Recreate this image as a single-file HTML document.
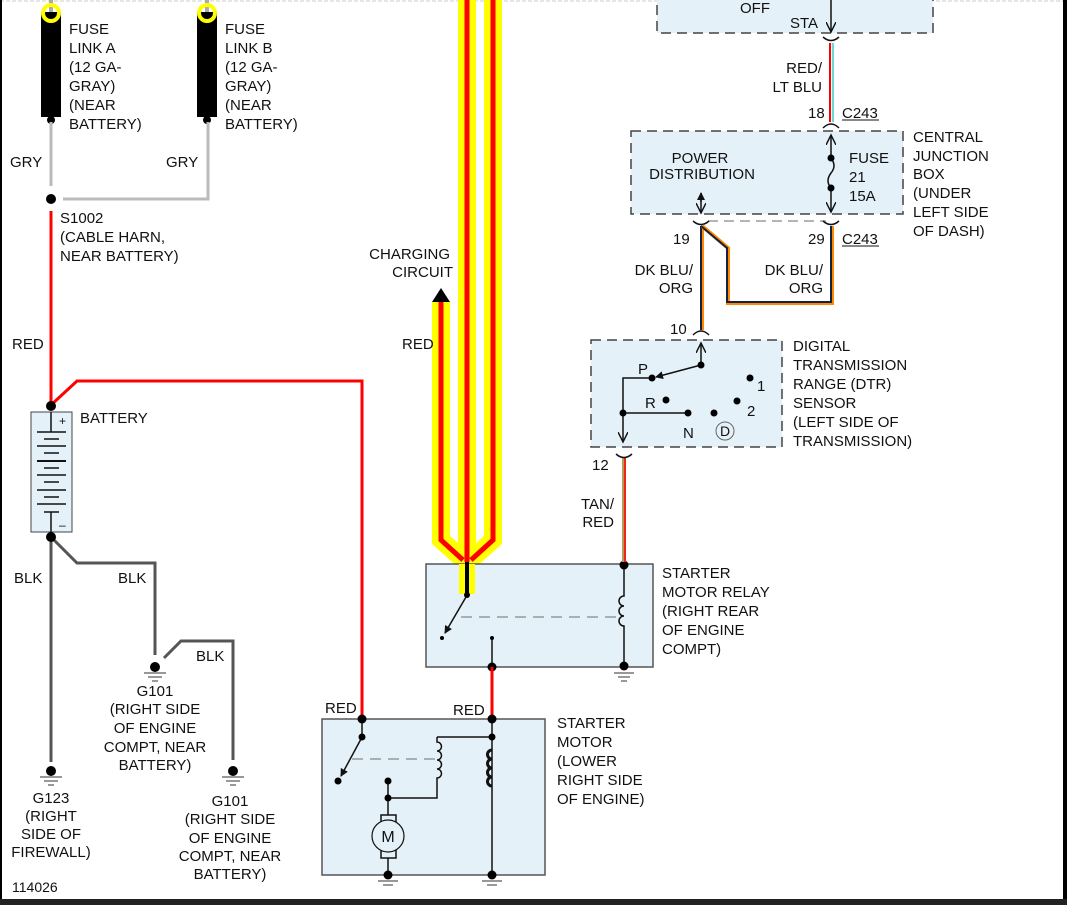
<!DOCTYPE html>
<html><head><meta charset="utf-8"><style>
html,body{margin:0;padding:0;background:#fff}
svg{display:block}
text{font-family:"Liberation Sans",sans-serif;font-size:15px;fill:#111}
</style></head><body>
<svg width="1067" height="905" viewBox="0 0 1067 905" xmlns="http://www.w3.org/2000/svg">
<defs>
<marker id="ah" markerWidth="8" markerHeight="8" refX="7" refY="4" orient="auto" markerUnits="userSpaceOnUse"><path d="M0,0 L8,4 L0,8 z" fill="#111"/></marker>
<marker id="oa" markerWidth="12" markerHeight="10" refX="10" refY="5" orient="auto" markerUnits="userSpaceOnUse"><path d="M0,0 L10,5 L0,10" fill="none" stroke="#111" stroke-width="1.4"/></marker>
</defs>
<rect width="1067" height="905" fill="#fff"/>
<line x1="0" y1="1" x2="1064" y2="1" stroke="#ccc" stroke-dasharray="4,2"/>
<rect x="0" y="0" width="2" height="905" fill="#000"/>
<rect x="1063" y="0" width="4" height="905" fill="#000"/>
<rect x="0" y="899" width="1067" height="6" fill="#222"/>

<!-- fuse links -->
<g>
<line x1="51" y1="0" x2="51" y2="12" stroke="#aaa" stroke-width="4"/>
<line x1="207" y1="0" x2="207" y2="12" stroke="#aaa" stroke-width="4"/>
<rect x="41" y="12" width="20" height="105" fill="#000"/>
<rect x="197" y="12" width="20" height="105" fill="#000"/>
<circle cx="51" cy="13" r="8" fill="none" stroke="#ff0" stroke-width="4"/>
<circle cx="207" cy="13" r="8" fill="none" stroke="#ff0" stroke-width="4"/>
<circle cx="51" cy="120" r="4" fill="#000"/>
<circle cx="207" cy="120" r="4" fill="#000"/>
<polyline points="51,122 51,186" fill="none" stroke="#bbb" stroke-width="3"/>
<polyline points="63,199 208,199 208,122" fill="none" stroke="#bbb" stroke-width="3"/>
<circle cx="51" cy="199" r="5" fill="#000"/>
</g>
<text x="69" y="34">FUSE</text><text x="69" y="53">LINK A</text><text x="69" y="72">(12 GA-</text><text x="69" y="91">GRAY)</text><text x="69" y="110">(NEAR</text><text x="69" y="129">BATTERY)</text>
<text x="225" y="34">FUSE</text><text x="225" y="53">LINK B</text><text x="225" y="72">(12 GA-</text><text x="225" y="91">GRAY)</text><text x="225" y="110">(NEAR</text><text x="225" y="129">BATTERY)</text>
<text x="10" y="167">GRY</text><text x="166" y="167">GRY</text>
<text x="60" y="223">S1002</text><text x="60" y="242">(CABLE HARN,</text><text x="60" y="261">NEAR BATTERY)</text>

<!-- red main -->
<line x1="51" y1="211" x2="51" y2="405" stroke="#f00" stroke-width="3"/>
<polyline points="51,405 77,381 362,381 362,718" fill="none" stroke="#f00" stroke-width="3"/>
<text x="12" y="349">RED</text>

<!-- battery -->
<rect x="31" y="412" width="41" height="120" fill="#e4f1f8" stroke="#444"/>
<circle cx="51" cy="406" r="5" fill="#000"/>
<g stroke="#111" stroke-width="1.5">
<line x1="51" y1="412" x2="51" y2="432"/>
<line x1="37" y1="432" x2="66" y2="432"/><line x1="44" y1="439" x2="59" y2="439"/>
<line x1="37" y1="446" x2="66" y2="446"/><line x1="44" y1="453" x2="59" y2="453"/>
<line x1="37" y1="461" x2="66" y2="461" stroke-width="2"/><line x1="44" y1="468" x2="59" y2="468"/>
<line x1="37" y1="475" x2="66" y2="475"/><line x1="44" y1="482" x2="59" y2="482"/>
<line x1="37" y1="490" x2="66" y2="490"/><line x1="44" y1="497" x2="59" y2="497"/>
<line x1="37" y1="504" x2="66" y2="504"/>
<line x1="44" y1="512" x2="59" y2="512"/><line x1="51" y1="512" x2="51" y2="532"/>
</g>
<text x="59" y="425" style="font-size:12px">+</text><text x="59" y="529" style="font-size:12px">–</text>
<text x="80" y="423">BATTERY</text>

<!-- BLK wires -->
<g fill="none" stroke="#555" stroke-width="3">
<line x1="51" y1="537" x2="51" y2="762"/>
<polyline points="51,537 77,563 155,563 155,655"/>
<polyline points="164,658 181,641 233,641 233,760"/>
</g>
<circle cx="51" cy="537" r="5" fill="#000"/>
<text x="14" y="583">BLK</text><text x="118" y="583">BLK</text><text x="196" y="661">BLK</text>
<g fill="#000">
<circle cx="155" cy="667" r="5"/><circle cx="51" cy="771" r="5"/><circle cx="233" cy="771" r="5"/>
</g>
<g stroke="#777" stroke-width="1.5">
<line x1="144" y1="673" x2="166" y2="673"/><line x1="148" y1="677" x2="162" y2="677"/><line x1="152" y1="681" x2="158" y2="681"/>
<line x1="40" y1="777" x2="62" y2="777"/><line x1="44" y1="781" x2="58" y2="781"/><line x1="48" y1="785" x2="54" y2="785"/>
<line x1="222" y1="777" x2="244" y2="777"/><line x1="226" y1="781" x2="240" y2="781"/><line x1="230" y1="785" x2="236" y2="785"/>
</g>
<g text-anchor="middle">
<text x="155" y="696">G101</text><text x="155" y="714">(RIGHT SIDE</text><text x="155" y="733">OF ENGINE</text><text x="155" y="752">COMPT, NEAR</text><text x="155" y="770">BATTERY)</text>
<text x="51" y="803">G123</text><text x="51" y="821">(RIGHT</text><text x="51" y="839">SIDE OF</text><text x="51" y="857">FIREWALL)</text>
<text x="230" y="806">G101</text><text x="230" y="824">(RIGHT SIDE</text><text x="230" y="843">OF ENGINE</text><text x="230" y="861">COMPT, NEAR</text><text x="230" y="879">BATTERY)</text>
</g>
<text x="12" y="892" style="font-size:14px">114026</text>

<!-- yellow harness -->
<g fill="none" stroke-linejoin="miter">
<g stroke="#ff0" stroke-width="18">
<polyline points="441,302 441,540 467,563"/>
<polyline points="493,0 493,540 467,563"/>
<line x1="467" y1="0" x2="467" y2="570"/>
</g>
<g stroke="#f00" stroke-width="5">
<polyline points="441,300 441,540 463,560"/>
<polyline points="493,0 493,540 471,560"/>
<line x1="467" y1="0" x2="467" y2="562"/>
</g>
</g>
<path d="M432,302 L441,288 L450,302 z" fill="#000"/>
<text x="450" y="259" text-anchor="end">CHARGING</text><text x="453" y="277" text-anchor="end">CIRCUIT</text>
<text x="402" y="349">RED</text>

<!-- relay -->
<rect x="426" y="564" width="227" height="103" fill="#e4f1f8" stroke="#555" stroke-width="1.5"/>
<rect x="459" y="564" width="16" height="30" fill="#ff0"/>
<line x1="467" y1="562" x2="467" y2="594" stroke="#000" stroke-width="4"/>
<circle cx="467" cy="595" r="3" fill="#000"/>
<line x1="466" y1="597" x2="445" y2="633" stroke="#111" stroke-width="1.5" marker-end="url(#ah)"/>
<circle cx="442" cy="638" r="2" fill="#000"/>
<line x1="461" y1="617" x2="620" y2="617" stroke="#888" stroke-width="1.2" stroke-dasharray="11,7"/>
<line x1="492" y1="638" x2="492" y2="667" stroke="#111" stroke-width="1.5"/>
<circle cx="492" cy="638" r="2" fill="#000"/>
<circle cx="492" cy="667" r="4.5" fill="#000"/>
<path d="M624,565 L624,596 a5,5 0 0 0 0,10 a5,5 0 0 0 0,10 a5,5 0 0 0 0,10 L624,666" fill="none" stroke="#111" stroke-width="1.5"/>
<circle cx="624" cy="565" r="4.5" fill="#000"/><circle cx="624" cy="666" r="4.5" fill="#000"/>
<g stroke="#777" stroke-width="1.5"><line x1="614" y1="673" x2="634" y2="673"/><line x1="618" y1="677" x2="630" y2="677"/><line x1="621" y1="681" x2="627" y2="681"/></g>
<line x1="624" y1="458" x2="624" y2="562" stroke="#b89a5a" stroke-width="4"/>
<line x1="625" y1="458" x2="625" y2="562" stroke="#f00" stroke-width="1.5"/>
<text x="614" y="509" text-anchor="end">TAN/</text><text x="614" y="527" text-anchor="end">RED</text>
<text x="662" y="578">STARTER</text><text x="662" y="597">MOTOR RELAY</text><text x="662" y="616">(RIGHT REAR</text><text x="662" y="635">OF ENGINE</text><text x="662" y="654">COMPT)</text>

<!-- starter -->
<line x1="492" y1="667" x2="492" y2="718" stroke="#f00" stroke-width="3"/>
<rect x="322" y="719" width="223" height="156" fill="#e4f1f8" stroke="#555" stroke-width="1.5"/>
<text x="325" y="713">RED</text><text x="453" y="715">RED</text>
<g stroke="#111" stroke-width="1.5" fill="none">
<line x1="362" y1="719" x2="362" y2="737"/>
<line x1="361" y1="739" x2="341" y2="776" marker-end="url(#ah)"/>
<line x1="492" y1="719" x2="492" y2="875"/>
<line x1="437" y1="737" x2="492" y2="737"/>
<path d="M437,737 L437,742 a4.5,4.5 0 0 1 0,9 a4.5,4.5 0 0 1 0,9 a4.5,4.5 0 0 1 0,9 a4.5,4.5 0 0 1 0,9 L437,798 L388,798"/>
<path d="M492,750 a4.5,4.5 0 0 0 0,9 a4.5,4.5 0 0 0 0,9 a4.5,4.5 0 0 0 0,9 a4.5,4.5 0 0 0 0,9" stroke-width="3"/>
<line x1="388" y1="781" x2="388" y2="815"/>
<rect x="381" y="815" width="15" height="43" fill="#e4f1f8"/>
<line x1="388" y1="858" x2="388" y2="875"/>
</g>
<line x1="352" y1="759" x2="435" y2="759" stroke="#888" stroke-width="1.2" stroke-dasharray="11,7"/>
<circle cx="388" cy="836" r="16" fill="#e4f1f8" stroke="#111" stroke-width="1.2"/>
<text x="388" y="842" text-anchor="middle" style="font-size:16px">M</text>
<g fill="#000">
<circle cx="362" cy="719" r="4.5"/><circle cx="492" cy="719" r="4.5"/><circle cx="362" cy="737" r="3.5"/><circle cx="338" cy="781" r="3.5"/>
<circle cx="492" cy="737" r="3.5"/><circle cx="388" cy="781" r="3.5"/><circle cx="388" cy="798" r="3.5"/>
<circle cx="388" cy="875" r="4.5"/><circle cx="492" cy="875" r="4.5"/>
</g>
<g stroke="#777" stroke-width="1.5"><line x1="378" y1="881" x2="398" y2="881"/><line x1="383" y1="885" x2="393" y2="885"/><line x1="482" y1="881" x2="502" y2="881"/><line x1="487" y1="885" x2="497" y2="885"/></g>
<text x="557" y="728">STARTER</text><text x="557" y="747">MOTOR</text><text x="557" y="766">(LOWER</text><text x="557" y="785">RIGHT SIDE</text><text x="557" y="804">OF ENGINE)</text>

<!-- ignition box -->
<rect x="657" y="-5" width="276" height="38" fill="#e4f1f8" stroke="#444" stroke-width="1.5" stroke-dasharray="10,6"/>
<text x="740" y="13">OFF</text><text x="790" y="28">STA</text>
<line x1="831" y1="0" x2="831" y2="32" stroke="#111" stroke-width="1.5" marker-end="url(#oa)"/>
<path d="M823,37 Q831,44 839,37" fill="none" stroke="#111" stroke-width="1.5"/>
<line x1="830" y1="43" x2="830" y2="122" stroke="#f00" stroke-width="2"/>
<line x1="833" y1="43" x2="833" y2="122" stroke="#3cc" stroke-width="1.5"/>
<text x="822" y="73" text-anchor="end">RED/</text><text x="822" y="92" text-anchor="end">LT BLU</text>
<text x="808" y="118">18</text><text x="842" y="118">C243</text><line x1="842" y1="120" x2="879" y2="120" stroke="#111"/>
<path d="M823,128 Q831,120 839,128" fill="none" stroke="#111" stroke-width="1.5"/>

<!-- CJB -->
<rect x="631" y="131" width="272" height="83" fill="#e4f1f8" stroke="#444" stroke-width="1.5" stroke-dasharray="10,6"/>
<text x="700" y="163" text-anchor="middle">POWER</text><text x="702" y="179" text-anchor="middle">DISTRIBUTION</text>
<line x1="831" y1="158" x2="831" y2="135" stroke="#111" stroke-width="1.5" marker-end="url(#oa)"/>
<line x1="831" y1="188" x2="831" y2="212" stroke="#111" stroke-width="1.5" marker-end="url(#oa)"/>
<path d="M831,158 q6,8 0,15 q-6,8 0,15" fill="none" stroke="#111" stroke-width="1.5"/>
<circle cx="831" cy="158" r="3.5" fill="#000"/><circle cx="831" cy="188" r="3.5" fill="#000"/>
<text x="849" y="163">FUSE</text><text x="849" y="182">21</text><text x="849" y="201">15A</text>
<line x1="701" y1="202" x2="701" y2="193" stroke="#111" stroke-width="1.5" marker-end="url(#ah)"/>
<line x1="701" y1="200" x2="701" y2="213" stroke="#111" stroke-width="1.5" marker-end="url(#oa)"/>
<text x="913" y="142">CENTRAL</text><text x="913" y="161">JUNCTION</text><text x="913" y="179">BOX</text><text x="913" y="198">(UNDER</text><text x="913" y="217">LEFT SIDE</text><text x="913" y="236">OF DASH)</text>
<line x1="708" y1="221" x2="826" y2="221" stroke="#888" stroke-width="1.2" stroke-dasharray="10,6"/>
<path d="M693,221 Q701,228 709,221" fill="none" stroke="#111" stroke-width="1.5"/>
<path d="M823,221 Q831,228 839,221" fill="none" stroke="#111" stroke-width="1.5"/>
<g fill="none">
<polyline points="702,226 702,330" stroke="#f80" stroke-width="4"/>
<polyline points="701,226 701,330" stroke="#124" stroke-width="2"/>
<polyline points="702,226 728,248 728,303 832,303 832,226" stroke="#f80" stroke-width="4"/>
<polyline points="701,226 727,248 727,302 831,302 831,226" stroke="#124" stroke-width="2"/>
</g>
<text x="673" y="244">19</text><text x="808" y="244">29</text><text x="842" y="244">C243</text><line x1="842" y1="246" x2="879" y2="246" stroke="#111"/>
<text x="693" y="275" text-anchor="end">DK BLU/</text><text x="693" y="293" text-anchor="end">ORG</text>
<text x="823" y="275" text-anchor="end">DK BLU/</text><text x="823" y="293" text-anchor="end">ORG</text>
<text x="670" y="334">10</text>
<path d="M693,335 Q701,327 709,335" fill="none" stroke="#111" stroke-width="1.5"/>

<!-- DTR -->
<rect x="591" y="340" width="191" height="107" fill="#e4f1f8" stroke="#444" stroke-width="1.5" stroke-dasharray="10,6"/>
<line x1="701" y1="365" x2="701" y2="343" stroke="#111" stroke-width="1.5" marker-end="url(#oa)"/>
<line x1="701" y1="365" x2="656" y2="377" stroke="#111" stroke-width="1.5" marker-end="url(#ah)"/>
<polyline points="652,378 623,378 623,442" fill="none" stroke="#111" stroke-width="1.5" marker-end="url(#oa)"/>
<line x1="623" y1="413" x2="688" y2="413" stroke="#111" stroke-width="1.5"/>
<g fill="#000">
<circle cx="701" cy="365" r="3.5"/><circle cx="652" cy="378" r="3.5"/><circle cx="623" cy="413" r="3.5"/><circle cx="688" cy="413" r="3.5"/>
<circle cx="666" cy="400" r="3.5"/><circle cx="714" cy="413" r="3.5"/><circle cx="737" cy="401" r="3.5"/><circle cx="750" cy="378" r="3.5"/>
</g>
<text x="638" y="374">P</text><text x="645" y="408">R</text><text x="683" y="438">N</text><text x="747" y="416">2</text><text x="757" y="391">1</text>
<circle cx="725" cy="431" r="9" fill="none" stroke="#666" stroke-width="1"/>
<text x="725" y="436" text-anchor="middle" style="font-size:14px">D</text>
<text x="793" y="351">DIGITAL</text><text x="793" y="370">TRANSMISSION</text><text x="793" y="389">RANGE (DTR)</text><text x="793" y="408">SENSOR</text><text x="793" y="427">(LEFT SIDE OF</text><text x="793" y="446">TRANSMISSION)</text>
<path d="M616,454 Q624,461 632,454" fill="none" stroke="#111" stroke-width="1.5"/>
<text x="592" y="470">12</text>
</svg>
</body></html>
